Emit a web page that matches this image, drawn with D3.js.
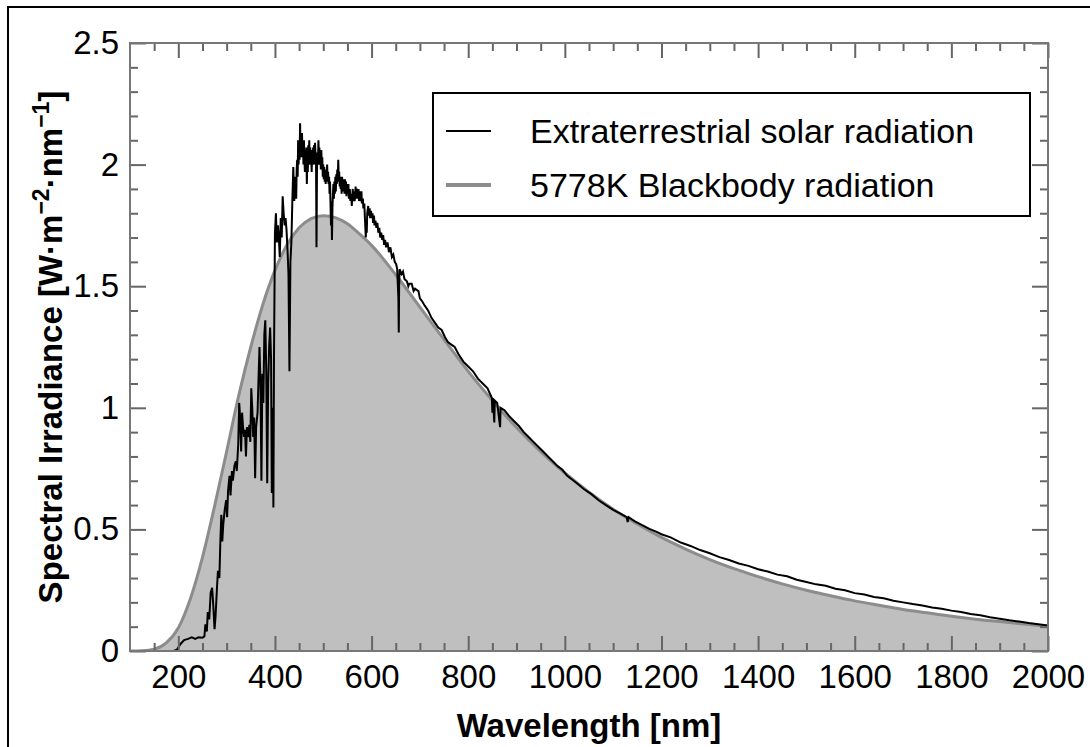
<!DOCTYPE html>
<html>
<head>
<meta charset="utf-8">
<script src="https://cdn.jsdelivr.net/npm/d3@7"></script>
<style>
  body { margin: 0; background: #fff; }
  text { font-family: "Liberation Sans", Arial, sans-serif; }
</style>
</head>
<body>
<div id="d3"></div>
<script>
const width = 1090;
const height = 747;

// tick values
const xMajorTicks = [200, 400, 600, 800, 1000, 1200, 1400, 1600, 1800, 2000];
const yMajorTicks = [0, 0.5, 1, 1.5, 2, 2.5];

// legend entries
const seriesNames = ['Extraterrestrial solar radiation', '5778K Blackbody radiation'];

// 5778K blackbody curve, [nm, W/m2/nm]
const blackbody = [
  [100, 0], [125, 0.001], [150, 0.007], [175, 0.033], [200, 0.095], [225, 0.215],
  [250, 0.385], [275, 0.595], [300, 0.82], [325, 1.05], [350, 1.25], [375, 1.425],
  [400, 1.565], [425, 1.67], [450, 1.74], [475, 1.778], [500, 1.79], [525, 1.782],
  [550, 1.757], [575, 1.715], [600, 1.668], [650, 1.547], [700, 1.414], [750, 1.28],
  [800, 1.15], [850, 1.03], [900, 0.919], [950, 0.82], [1000, 0.732], [1050, 0.653],
  [1100, 0.583], [1150, 0.522], [1200, 0.467], [1250, 0.419], [1300, 0.376],
  [1350, 0.339], [1400, 0.306], [1450, 0.276], [1500, 0.25], [1550, 0.227],
  [1600, 0.206], [1650, 0.188], [1700, 0.171], [1750, 0.157], [1800, 0.143],
  [1850, 0.131], [1900, 0.121], [1950, 0.111], [2000, 0.102]
];

// extraterrestrial solar spectrum, [nm, W/m2/nm]
const solar = [
  [100, 0], [190, 0], [197, 0.005], [205, 0.03], [212, 0.045], [220, 0.05], [228, 0.056],
  [235, 0.05], [242, 0.056], [250, 0.055], [254, 0.06], [256, 0.11], [259, 0.08],
  [261, 0.16], [264, 0.13], [267, 0.24], [270, 0.26], [272, 0.2], [275, 0.09],
  [277, 0.14], [280, 0.26], [282, 0.33], [285, 0.3], [287, 0.45], [289, 0.56],
  [291, 0.45], [293, 0.52], [296, 0.58], [299, 0.62], [301, 0.55], [303, 0.66],
  [306, 0.72], [308, 0.64], [311, 0.74], [313, 0.7], [316, 0.76], [319, 0.78],
  [321, 0.74], [324, 0.85], [326, 1.02], [328, 0.96], [330, 0.82], [332, 0.98],
  [334, 0.92], [336, 0.88], [338, 0.91], [340, 0.8], [342, 0.92], [345, 0.88],
  [347, 0.93], [349, 0.86], [351, 1.08], [353, 1.0], [355, 0.88], [357, 0.96],
  [359, 0.71], [361, 0.92], [364, 0.98], [366, 1.12], [368, 1.25], [370, 1.1],
  [372, 0.7], [374, 1.14], [376, 1.02], [378, 1.3], [380, 1.36], [382, 1.15],
  [384, 0.69], [386, 1.1], [388, 1.25], [390, 1.33], [392, 1.2], [393.5, 0.65],
  [395, 1.0], [396.8, 0.59], [398, 1.2], [400, 1.72], [402, 1.8], [404, 1.68],
  [406, 1.75], [408, 1.7], [410, 1.62], [412, 1.78], [414, 1.7], [416, 1.87],
  [418, 1.8], [420, 1.75], [422, 1.78], [424, 1.73], [426, 1.65], [428, 1.55],
  [430, 1.15], [432, 1.6], [434, 1.68], [436, 1.85], [438, 1.99], [439, 1.9],
  [440, 1.85], [441, 1.95], [442, 1.88], [443, 1.93], [444, 1.86], [445, 1.98],
  [446, 2.02], [447, 1.95], [448, 2.1], [449, 2.0], [450, 2.08], [451, 2.02],
  [452, 2.17], [453, 2.06], [454, 2.12], [455, 2.03], [456, 2.13], [457, 2.04],
  [458, 2.09], [459, 2.0], [460, 2.1], [461, 2.02], [462, 1.97], [463, 2.06],
  [464, 2.0], [465, 2.07], [466, 1.92], [467, 2.02], [468, 1.97], [469, 2.08],
  [470, 2.03], [471, 2.1], [472, 2.0], [473, 2.07], [474, 2.01], [475, 2.06],
  [476, 1.97], [477, 2.05], [478, 2.0], [479, 2.07], [480, 2.02], [481, 2.08],
  [482, 2.0], [483, 2.09], [484, 2.04], [485, 2.02], [486, 1.66], [487, 1.98],
  [488, 2.05], [489, 2.0], [490, 2.1], [491, 2.03], [492, 2.07], [493, 2.0],
  [494, 2.05], [495, 1.98], [496, 2.06], [497, 1.99], [498, 2.03], [499, 1.95],
  [500, 2.0], [501, 1.94], [502, 1.99], [503, 1.93], [504, 1.98], [505, 1.92],
  [506, 1.97], [507, 1.93], [508, 2.0], [509, 1.94], [510, 1.97], [511, 1.92],
  [512, 1.95], [513, 1.88], [514, 1.93], [516, 1.75], [517, 1.85], [518, 1.69],
  [519, 1.82], [520, 1.88], [521, 1.92], [522, 1.86], [523, 1.93], [524, 1.88],
  [525, 1.95], [526, 1.89], [527, 1.96], [528, 1.92], [529, 1.98], [530, 1.93],
  [531, 2.02], [532, 1.95], [533, 1.97], [534, 1.91], [535, 1.95], [536, 1.9],
  [537, 1.93], [538, 1.88], [539, 1.95], [540, 1.9], [541, 1.94], [542, 1.89],
  [543, 1.93], [544, 1.88], [545, 1.94], [546, 1.9], [547, 1.93], [548, 1.87],
  [549, 1.92], [550, 1.88], [552, 1.92], [553, 1.86], [555, 1.9], [556, 1.85],
  [558, 1.88], [559, 1.83], [561, 1.9], [562, 1.85], [564, 1.89], [565, 1.85],
  [567, 1.91], [568, 1.86], [570, 1.9], [571, 1.86], [573, 1.9], [574, 1.85],
  [576, 1.89], [577, 1.85], [579, 1.89], [580, 1.84], [582, 1.86], [583, 1.82],
  [585, 1.84], [586, 1.79], [588, 1.7], [589, 1.75], [590, 1.72], [591, 1.8],
  [593, 1.83], [594, 1.79], [596, 1.82], [597, 1.78], [599, 1.81], [600, 1.78],
  [602, 1.8], [603, 1.76], [605, 1.79], [606, 1.75], [608, 1.77], [610, 1.74],
  [612, 1.76], [614, 1.72], [616, 1.74], [618, 1.7], [620, 1.72], [622, 1.69],
  [624, 1.71], [626, 1.67], [628, 1.69], [630, 1.66], [633, 1.68], [636, 1.64],
  [639, 1.66], [642, 1.62], [645, 1.63], [648, 1.6], [651, 1.59], [653, 1.57],
  [655.5, 1.45], [656.3, 1.31], [657, 1.5], [658, 1.57], [662, 1.55], [665, 1.56],
  [668, 1.53], [673, 1.52], [676, 1.5], [678, 1.51], [683, 1.51], [687, 1.48],
  [690, 1.49], [697, 1.48], [700, 1.45], [704, 1.44], [710, 1.42], [717, 1.4],
  [724, 1.37], [731, 1.35], [738, 1.33], [745, 1.32], [752, 1.29], [758, 1.27],
  [765, 1.26], [772, 1.25], [780, 1.22], [790, 1.19], [800, 1.17], [810, 1.15],
  [820, 1.12], [830, 1.1], [840, 1.08], [849, 1.04], [850, 0.98], [851, 1.04],
  [854, 0.94], [855, 1.03], [860, 1.02], [866, 0.92], [867, 1.0], [875, 0.99],
  [885, 0.965], [895, 0.945], [905, 0.925], [915, 0.9], [925, 0.88], [935, 0.86],
  [945, 0.84], [955, 0.82], [965, 0.8], [975, 0.78], [985, 0.76], [995, 0.745],
  [1005, 0.72], [1015, 0.705], [1025, 0.69], [1040, 0.665], [1055, 0.645], [1070, 0.62],
  [1085, 0.6], [1100, 0.58], [1115, 0.565], [1128, 0.55], [1130, 0.53], [1132, 0.55],
  [1145, 0.533], [1160, 0.518], [1175, 0.502], [1190, 0.49], [1200, 0.48], [1220, 0.466],
  [1240, 0.446], [1260, 0.432], [1280, 0.415], [1300, 0.402], [1320, 0.386], [1340, 0.374],
  [1360, 0.36], [1380, 0.35], [1400, 0.336], [1420, 0.327], [1440, 0.314], [1460, 0.307],
  [1480, 0.293], [1500, 0.284], [1520, 0.274], [1540, 0.268], [1560, 0.256], [1580, 0.25],
  [1600, 0.238], [1620, 0.232], [1640, 0.222], [1660, 0.217], [1680, 0.207], [1700, 0.2],
  [1720, 0.193], [1740, 0.187], [1760, 0.179], [1780, 0.174], [1800, 0.166], [1820, 0.16],
  [1840, 0.152], [1860, 0.147], [1880, 0.139], [1900, 0.133], [1920, 0.126], [1940, 0.121],
  [1960, 0.115], [1980, 0.11], [2000, 0.105]
];

// canvas
let svg = d3.select('#d3').append('svg')
  .attr('width', width)
  .attr('height', height);

// outer border (cut off on the right and bottom)
svg.append('rect')
  .attr('x', 8)
  .attr('y', 7)
  .attr('width', 1200)
  .attr('height', 900)
  .style('fill', 'none')
  .style('stroke', '#000')
  .style('stroke-width', 2);

const plotLeft = 130, plotRight = 1048, plotTop = 43, plotBottom = 651;

let x = d3.scaleLinear().domain([100, 2000]).range([plotLeft, plotRight]);
let y = d3.scaleLinear().domain([0, 2.5]).range([plotBottom, plotTop]);

svg.append('clipPath').attr('id', 'plot-clip')
  .append('rect')
  .attr('x', plotLeft).attr('y', plotTop)
  .attr('width', plotRight - plotLeft).attr('height', plotBottom - plotTop);

let plot = svg.append('g').attr('clip-path', 'url(#plot-clip)');

// blackbody filled area
plot.append('path')
  .datum(blackbody)
  .attr('d', d3.area()
    .x(d => x(d[0]))
    .y0(y(0))
    .y1(d => y(d[1]))
    .curve(d3.curveMonotoneX))
  .style('fill', '#bfbfbf');

// blackbody line
plot.append('path')
  .datum(blackbody)
  .attr('d', d3.line()
    .x(d => x(d[0]))
    .y(d => y(d[1]))
    .curve(d3.curveMonotoneX))
  .style('fill', 'none')
  .style('stroke', '#8c8c8c')
  .style('stroke-width', 3);

// solar spectrum line
plot.append('path')
  .datum(solar)
  .attr('d', d3.line()
    .x(d => x(d[0]))
    .y(d => y(d[1])))
  .style('fill', 'none')
  .style('stroke', '#000')
  .style('stroke-width', 2)
  .style('stroke-linejoin', 'miter');

// minor tick values
const xMinor = d3.range(150, 2000, 50).filter(v => v % 200 !== 0);
const yMinor = d3.range(1, 25).map(v => v / 10).filter(v => Math.round(v * 10) % 5 !== 0);

function styleAxis(g) {
  g.select('.domain').remove();
  g.selectAll('line').style('stroke', '#666').style('stroke-width', 2);
  g.selectAll('text')
    .style('font-family', '"Liberation Sans", Arial, sans-serif')
    .style('font-size', '33px')
    .style('fill', '#000');
}

// bottom axis
svg.append('g')
  .attr('transform', 'translate(0,' + plotBottom + ')')
  .call(d3.axisBottom(x).tickValues(xMajorTicks).tickSize(-15).tickPadding(14)
    .tickFormat(d3.format('d')))
  .call(styleAxis);
svg.append('g')
  .attr('transform', 'translate(0,' + plotBottom + ')')
  .call(d3.axisBottom(x).tickValues(xMinor).tickSize(-8).tickFormat(''))
  .call(styleAxis);

// top axis
svg.append('g')
  .attr('transform', 'translate(0,' + plotTop + ')')
  .call(d3.axisTop(x).tickValues(xMajorTicks).tickSize(-15).tickFormat(''))
  .call(styleAxis);
svg.append('g')
  .attr('transform', 'translate(0,' + plotTop + ')')
  .call(d3.axisTop(x).tickValues(xMinor).tickSize(-8).tickFormat(''))
  .call(styleAxis);

// left axis
svg.append('g')
  .attr('transform', 'translate(' + plotLeft + ',0)')
  .call(d3.axisLeft(y).tickValues(yMajorTicks).tickSize(-16).tickPadding(11)
    .tickFormat(d3.format('~g')))
  .call(styleAxis);
svg.append('g')
  .attr('transform', 'translate(' + plotLeft + ',0)')
  .call(d3.axisLeft(y).tickValues(yMinor).tickSize(-8).tickFormat(''))
  .call(styleAxis);

// right axis
svg.append('g')
  .attr('transform', 'translate(' + plotRight + ',0)')
  .call(d3.axisRight(y).tickValues(yMajorTicks).tickSize(-16).tickFormat(''))
  .call(styleAxis);
svg.append('g')
  .attr('transform', 'translate(' + plotRight + ',0)')
  .call(d3.axisRight(y).tickValues(yMinor).tickSize(-8).tickFormat(''))
  .call(styleAxis);

// frame
svg.append('rect')
  .attr('x', plotLeft).attr('y', plotTop)
  .attr('width', plotRight - plotLeft).attr('height', plotBottom - plotTop)
  .style('fill', 'none')
  .style('stroke', '#777')
  .style('stroke-width', 2);

// x label
svg.append('text')
  .text('Wavelength [nm]')
  .attr('x', (plotLeft + plotRight) / 2)
  .attr('y', 737)
  .attr('text-anchor', 'middle')
  .style('font-size', '33px')
  .style('font-weight', 'bold');

// y label with superscripts
let yLabel = svg.append('text')
  .attr('transform', 'translate(62,' + ((plotTop + plotBottom) / 2) + ') rotate(-90)')
  .attr('text-anchor', 'middle')
  .style('font-size', '33px')
  .style('font-weight', 'bold');
yLabel.append('tspan').text('Spectral Irradiance [W·m');
yLabel.append('tspan').text('−2').attr('dy', -13).style('font-size', '23px');
yLabel.append('tspan').text('·nm').attr('dy', 13);
yLabel.append('tspan').text('−1').attr('dy', -13).style('font-size', '23px');
yLabel.append('tspan').text(']').attr('dy', 13);

// legend
let legend = svg.append('g');
legend.append('rect')
  .attr('x', 433).attr('y', 93)
  .attr('width', 597).attr('height', 123)
  .style('fill', '#fff')
  .style('stroke', '#000')
  .style('stroke-width', 2);

const legendStyles = [
  { color: '#000', w: 2 },
  { color: '#8c8c8c', w: 4 }
];
seriesNames.forEach((name, i) => {
  let g = legend.append('g').attr('transform', 'translate(0,' + (131 + i * 54) + ')');
  g.append('line')
    .attr('x1', 446).attr('x2', 491)
    .attr('y1', 0).attr('y2', 0)
    .style('stroke', legendStyles[i].color)
    .style('stroke-width', legendStyles[i].w);
  g.append('text')
    .text(name)
    .attr('x', 530)
    .attr('y', 12)
    .style('font-size', '34px');
});
</script>
</body>
</html>
